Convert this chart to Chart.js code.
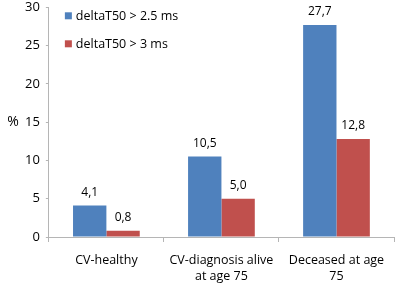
<!DOCTYPE html>
<html>
<head>
<meta charset="utf-8">
<script src="https://cdn.jsdelivr.net/npm/chart.js@4.4.0/dist/chart.umd.min.js"></script>
<style>
    html, body { margin: 0; padding: 0; background: #fff; }
    #wrap { width: 397px; height: 284px; }
</style>
</head>
<body>
<div id="wrap"><canvas id="chart"></canvas></div>
<script>
let categories = [['CV-healthy'], ['CV-diagnosis alive', 'at age 75'], ['Deceased at age', '75']];
let series25 = [4.1, 10.5, 27.7];
let series3 = [0.8, 5.0, 12.8];
let seriesLabels = ['deltaT50 > 2.5 ms', 'deltaT50 > 3 ms'];
let yTicks = [0, 5, 10, 15, 20, 25, 30];

const fontFamily = '"Open Sans", "Liberation Sans", sans-serif';
const axisColor = '#b5b5b5';

// value labels above bars, plus the legend and the "%" label
const extras = {
    id: 'extras',
    afterDatasetsDraw(chart) {
        const ctx = chart.ctx;
        ctx.save();
        ctx.fillStyle = '#000';
        ctx.font = '12px ' + fontFamily;
        ctx.textAlign = 'center';
        ctx.textBaseline = 'bottom';
        chart.data.datasets.forEach((ds, i) => {
            chart.getDatasetMeta(i).data.forEach((bar, j) => {
                ctx.fillText(ds.data[j].toFixed(1).replace('.', ','), bar.x, bar.y - 7);
            });
        });

        // legend, top left inside the plot
        const area = chart.chartArea;
        ctx.font = '12.5px ' + fontFamily;
        ctx.textAlign = 'left';
        ctx.textBaseline = 'middle';
        chart.data.datasets.forEach((ds, i) => {
            const y = area.top + 9 + i * 28;
            ctx.fillStyle = ds.backgroundColor;
            ctx.fillRect(area.left + 16, y - 4, 7, 7);
            ctx.fillStyle = '#000';
            ctx.fillText(ds.label, area.left + 27, y);
        });

        ctx.font = '14px ' + fontFamily;
        ctx.textAlign = 'center';
        ctx.fillText('%', 13, (area.top + area.bottom) / 2);
        ctx.restore();
    }
};

new Chart(document.getElementById('chart'), {
    type: 'bar',
    data: {
        labels: categories,
        datasets: [
            {
                label: seriesLabels[0],
                data: series25,
                backgroundColor: '#4f81bd',
                borderWidth: 0
            },
            {
                label: seriesLabels[1],
                data: series3,
                backgroundColor: '#c0504d',
                borderWidth: 0
            }
        ]
    },
    options: {
        responsive: true,
        maintainAspectRatio: false,
        animation: false,
        layout: {
            padding: {left: 19, right: 3, top: 0, bottom: 0}
        },
        datasets: {
            bar: {
                barPercentage: 1.0,
                categoryPercentage: 0.58
            }
        },
        plugins: {
            legend: {display: false},
            tooltip: {enabled: false}
        },
        scales: {
            x: {
                afterFit: (scale) => {
                    scale.height = 47;
                },
                grid: {
                    drawOnChartArea: false,
                    drawTicks: true,
                    tickLength: 5,
                    color: axisColor
                },
                border: {color: axisColor},
                ticks: {
                    color: '#000',
                    font: {family: fontFamily, size: 12.5, lineHeight: 1.3},
                    padding: 10,
                    maxRotation: 0,
                    autoSkip: false
                }
            },
            y: {
                min: 0,
                max: 30,
                afterBuildTicks: (scale) => {
                    scale.ticks = yTicks.map(v => ({value: v}));
                },
                grid: {
                    drawOnChartArea: false,
                    drawTicks: true,
                    tickLength: 3,
                    color: axisColor
                },
                border: {color: axisColor},
                ticks: {
                    color: '#000',
                    font: {family: fontFamily, size: 13, lineHeight: 0.2},
                    padding: 6
                }
            }
        }
    },
    plugins: [extras]
});
</script>
</body>
</html>
